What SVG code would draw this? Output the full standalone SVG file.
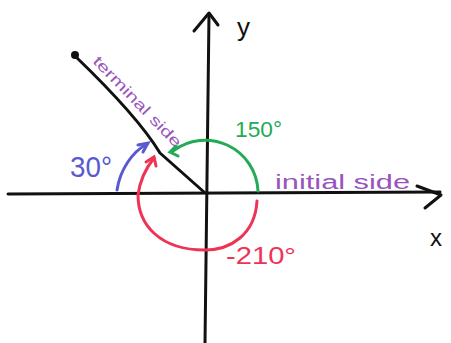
<svg xmlns="http://www.w3.org/2000/svg" width="451" height="343" viewBox="0 0 451 343">
<style>
.ax{fill:none;stroke:#111;stroke-width:3;stroke-linecap:round;stroke-linejoin:round}
.t{font-family:"Liberation Sans",Arial,sans-serif}
</style>
<rect width="451" height="343" fill="#fff"/>
<g id="axes">
<path class="ax" d="M8 194 L440 192"/>
<path class="ax" d="M417 186 L441 195 L425 208"/>
<path class="ax" d="M209 14 L205 343"/>
<path class="ax" d="M194 31 L209 13 L218 25"/>
</g>
<g id="terminal">
<path class="ax" d="M75 56 C100 80 140 120 160 153 L204 192"/>
<circle cx="75" cy="55" r="4" fill="#111"/>
</g>
<g id="arcs" fill="none" stroke-width="3" stroke-linecap="round">
<path d="M258 191 A53 53 0 0 0 173 151" stroke="#22aa55"/>
<path d="M176 146 L170 152 L178 156" stroke="#22aa55"/>
<path d="M257 201 C255 235 230 250 205 250 C160 250 138 225 138 195 C140 180 146 168 154 158" stroke="#ee3355"/>
<path d="M146 162 L154 157 L156 166" stroke="#ee3355"/>
<path d="M117 190 C120 170 132 152 147 144" stroke="#5a5ad0"/>
<path d="M138 145 L148 143 L143 152" stroke="#5a5ad0"/>
</g>
<g id="labels" class="t">
<text x="237" y="36" font-size="26" fill="#111">y</text>
<text x="430" y="246" font-size="24" fill="#111">x</text>
<text x="235" y="137" font-size="22" fill="#22aa55" textLength="47" lengthAdjust="spacingAndGlyphs">150°</text>
<text x="70" y="177" font-size="30" fill="#5a5ad0" textLength="42" lengthAdjust="spacingAndGlyphs">30°</text>
<text x="226" y="264" font-size="24" fill="#ee3355" textLength="70" lengthAdjust="spacingAndGlyphs">-210°</text>
<text x="275" y="189" font-size="20" fill="#9955bb" textLength="135" lengthAdjust="spacingAndGlyphs">initial side</text>
<text x="0" y="0" font-size="15" fill="#9955bb" textLength="120" lengthAdjust="spacingAndGlyphs" transform="translate(92 62) rotate(46)">terminal side</text>
</g>
</svg>
